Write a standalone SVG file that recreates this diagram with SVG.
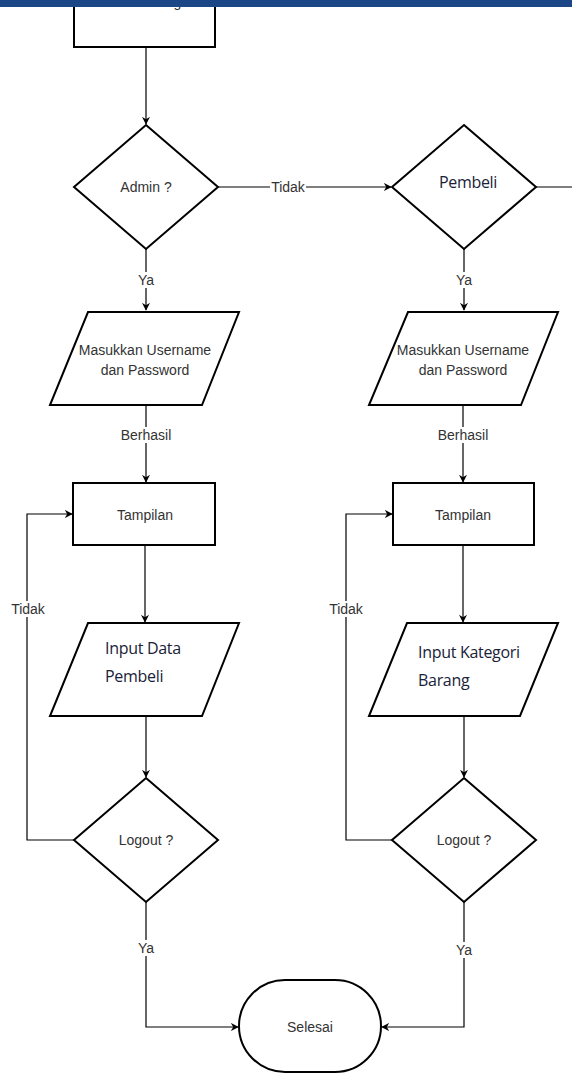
<svg xmlns="http://www.w3.org/2000/svg" width="572" height="1074" viewBox="0 0 572 1074">
<defs>
<marker id="arr" viewBox="0 0 10 10" refX="9" refY="5" markerWidth="8" markerHeight="8" markerUnits="userSpaceOnUse" orient="auto">
<path d="M0,0 L10,5 L0,10 L3,5 Z" fill="#000"/>
</marker>
<style>
.shape{fill:#fff;stroke:#000;stroke-width:2}
.conn{fill:none;stroke:#000;stroke-width:1.2}
.t{font-family:"Liberation Sans",Arial,sans-serif;font-size:14px;fill:#333;text-anchor:middle}
.c{font-family:"Open Sans","Noto Sans",sans-serif;font-size:16px;fill:#1a2238;letter-spacing:-0.3px}
.lb{fill:#fff}
</style>
</defs>
<rect width="572" height="1074" fill="#fff"/>

<g id="connectors">
<path class="conn" d="M146,47 V124" marker-end="url(#arr)"/>
<path class="conn" d="M218,187 H391" marker-end="url(#arr)"/>
<path class="conn" d="M536,187 H572"/>
<path class="conn" d="M146,249 V310" marker-end="url(#arr)"/>
<path class="conn" d="M464,249 V310" marker-end="url(#arr)"/>
<path class="conn" d="M146,405 V482" marker-end="url(#arr)"/>
<path class="conn" d="M463,405 V482" marker-end="url(#arr)"/>
<path class="conn" d="M145,545 V622" marker-end="url(#arr)"/>
<path class="conn" d="M463,545 V622" marker-end="url(#arr)"/>
<path class="conn" d="M146,716 V777" marker-end="url(#arr)"/>
<path class="conn" d="M464,716 V777" marker-end="url(#arr)"/>
<path class="conn" d="M74,840 H27 V514 H72" marker-end="url(#arr)"/>
<path class="conn" d="M392,840 H346 V514 H392" marker-end="url(#arr)"/>
<path class="conn" d="M146,902 V1027 H238" marker-end="url(#arr)"/>
<path class="conn" d="M464,902 V1027 H382" marker-end="url(#arr)"/>
<rect class="lb" x="270" y="179" width="36" height="16"/>
<text class="t" x="288" y="192">Tidak</text>
<rect class="lb" x="136" y="272" width="20" height="16"/>
<text class="t" x="146" y="285">Ya</text>
<rect class="lb" x="454" y="272" width="20" height="16"/>
<text class="t" x="464" y="285">Ya</text>
<rect class="lb" x="120" y="427" width="52" height="16"/>
<text class="t" x="146" y="440">Berhasil</text>
<rect class="lb" x="437" y="427" width="52" height="16"/>
<text class="t" x="463" y="440">Berhasil</text>
<rect class="lb" x="10" y="601" width="36" height="16"/>
<text class="t" x="28" y="614">Tidak</text>
<rect class="lb" x="328" y="601" width="36" height="16"/>
<text class="t" x="346" y="614">Tidak</text>
<rect class="lb" x="136" y="940" width="20" height="16"/>
<text class="t" x="146" y="953">Ya</text>
<rect class="lb" x="454" y="942" width="20" height="16"/>
<text class="t" x="464" y="955">Ya</text>
</g>

<g id="halaman-login">
<rect class="shape" x="74" y="-20" width="141" height="67"/>
<text class="t" x="145" y="7">Halaman Login</text>
</g>
<text class="t" x="505" y="4">Tidak</text>

<g id="admin">
<polygon class="shape" points="146,125 218,187 146,249 74,187"/>
<text class="t" x="146" y="192">Admin ?</text>
</g>
<g id="pembeli">
<polygon class="shape" points="464,125 536,187 464,249 392,187"/>
<text class="c" x="468" y="188" text-anchor="middle">Pembeli</text>
</g>

<g id="login-admin">
<polygon class="shape" points="88,312 239,312 202,405 50,405"/>
<text class="t" x="145" y="355">Masukkan Username</text>
<text class="t" x="145" y="375">dan Password</text>
</g>
<g id="login-pembeli">
<polygon class="shape" points="408,312 558,312 521,405 369,405"/>
<text class="t" x="463" y="355">Masukkan Username</text>
<text class="t" x="463" y="375">dan Password</text>
</g>

<g id="tampilan-admin">
<rect class="shape" x="73" y="483" width="142" height="62"/>
<text class="t" x="145" y="520">Tampilan</text>
</g>
<g id="tampilan-pembeli">
<rect class="shape" x="393" y="483" width="141" height="62"/>
<text class="t" x="463" y="520">Tampilan</text>
</g>

<g id="input-data-pembeli">
<polygon class="shape" points="88,623 239,623 202,716 50,716"/>
<text class="c" x="105" y="654">Input Data</text>
<text class="c" x="105" y="682">Pembeli</text>
</g>
<g id="input-kategori-barang">
<polygon class="shape" points="407,623 558,623 520,716 369,716"/>
<text class="c" x="418" y="658">Input Kategori</text>
<text class="c" x="418" y="686">Barang</text>
</g>

<g id="logout-admin">
<polygon class="shape" points="146,778 218,840 146,902 74,840"/>
<text class="t" x="146" y="845">Logout ?</text>
</g>
<g id="logout-pembeli">
<polygon class="shape" points="464,778 536,840 464,902 392,840"/>
<text class="t" x="464" y="845">Logout ?</text>
</g>

<g id="selesai">
<rect class="shape" x="239" y="980" width="142" height="92" rx="46" ry="46"/>
<text class="t" x="310" y="1032">Selesai</text>
</g>

<rect x="0" y="0" width="572" height="7" fill="#1b4786"/>
</svg>
